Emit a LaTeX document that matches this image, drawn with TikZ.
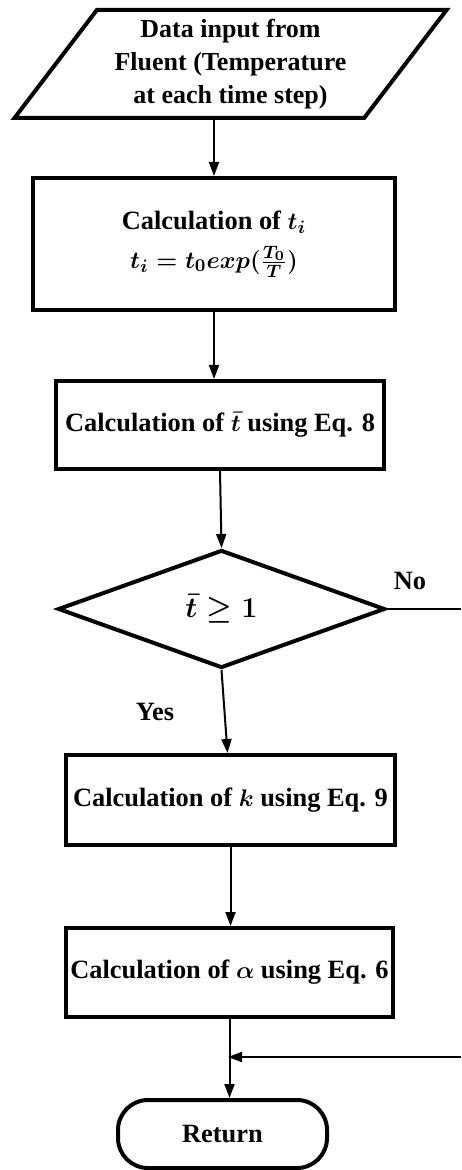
\documentclass[tikz,border=0pt]{standalone}
\usepackage{amsmath}
\usepackage{amssymb}
\usepackage{fontspec}
\setmainfont{Liberation Serif}
\usepackage{tikz}
\usetikzlibrary{positioning,shapes.geometric,arrows.meta}
\tikzstyle{arrow} = [line width=1pt,-{Triangle[width=5pt,length=7pt]}]
\tikzstyle{flowline} = [line width=1pt]
\tikzstyle{process} = [draw,line width=2pt,rectangle,align=center,inner sep=0pt,font=\fontsize{13.2}{16.5}\selectfont\bfseries\boldmath]
\tikzstyle{io} = [draw,line width=2pt,trapezium,trapezium left angle=51.5,trapezium right angle=128.5,trapezium stretches=true,align=center,inner sep=0pt,font=\fontsize{13}{16.5}\selectfont\bfseries]
\tikzstyle{decision} = [draw,line width=2pt,diamond,inner sep=0pt,font=\fontsize{15}{18}\selectfont\bfseries\boldmath]
\tikzstyle{terminal} = [draw,line width=2pt,rectangle,rounded corners=15pt,inner sep=0pt,font=\fontsize{13.2}{16.5}\selectfont\bfseries]
\tikzstyle{answer} = [font=\fontsize{13.2}{16.5}\selectfont\bfseries]

\begin{document}
\begin{tikzpicture}[x=0.5pt,y=-0.5pt]
			\useasboundingbox (0,0) rectangle (461,1170);
			\node [io, minimum width=216.5pt, minimum height=54pt] (input) at (230.5, 64) {Data input from\\Fluent (Temperature\\at each time step)};
			\node [process, minimum width=181pt, minimum height=66pt] (ticalc) at (214, 244) {Calculation of $t_i$\\[3pt]$t_i = t_0exp(\frac{T_0}{T})$};
			\node [process, minimum width=164pt, minimum height=44pt] (tbarcalc) at (220, 425) {Calculation of $\bar{t}$ using Eq. 8};
			\node [decision, minimum width=163.5pt, minimum height=59pt] (check) at (221.5, 609) {$\bar{t} \geq 1$};
			\node [process, minimum width=164.5pt, minimum height=45pt] (kcalc) at (230.5, 800) {Calculation of $k$ using Eq. 9};
			\node [process, minimum width=163.5pt, minimum height=44.5pt] (alphacalc) at (229.5, 972.5) {Calculation of $\alpha$ using Eq. 6};
			\node [terminal, minimum width=104.5pt, minimum height=34pt] (return) at (222.5, 1134) {Return};
			\node [answer] (no) at (410, 581) {No};
			\node [answer] (yes) at (155, 712) {Yes};
			\coordinate (noout) at (461, 609);
			\coordinate (noin) at (461, 1057);
			\coordinate (merge) at (228, 1057);
			\draw[arrow] (input.south -| ticalc.north) -- (ticalc.north);
			\draw[arrow] (ticalc.south) -- (ticalc.south |- tbarcalc.north);
			\draw[arrow] (tbarcalc.south) -- (check.north);
			\draw[arrow] (check.south) -- ([xshift=-1.5pt]kcalc.north);
			\draw[arrow] (kcalc.south) -- (kcalc.south |- alphacalc.north);
			\draw[arrow] (alphacalc.south) -- (alphacalc.south |- return.north);
			\draw[flowline] (check.east) -- (noout);
			\draw[arrow] (noin) -- (merge);
		\end{tikzpicture}
\end{document}
